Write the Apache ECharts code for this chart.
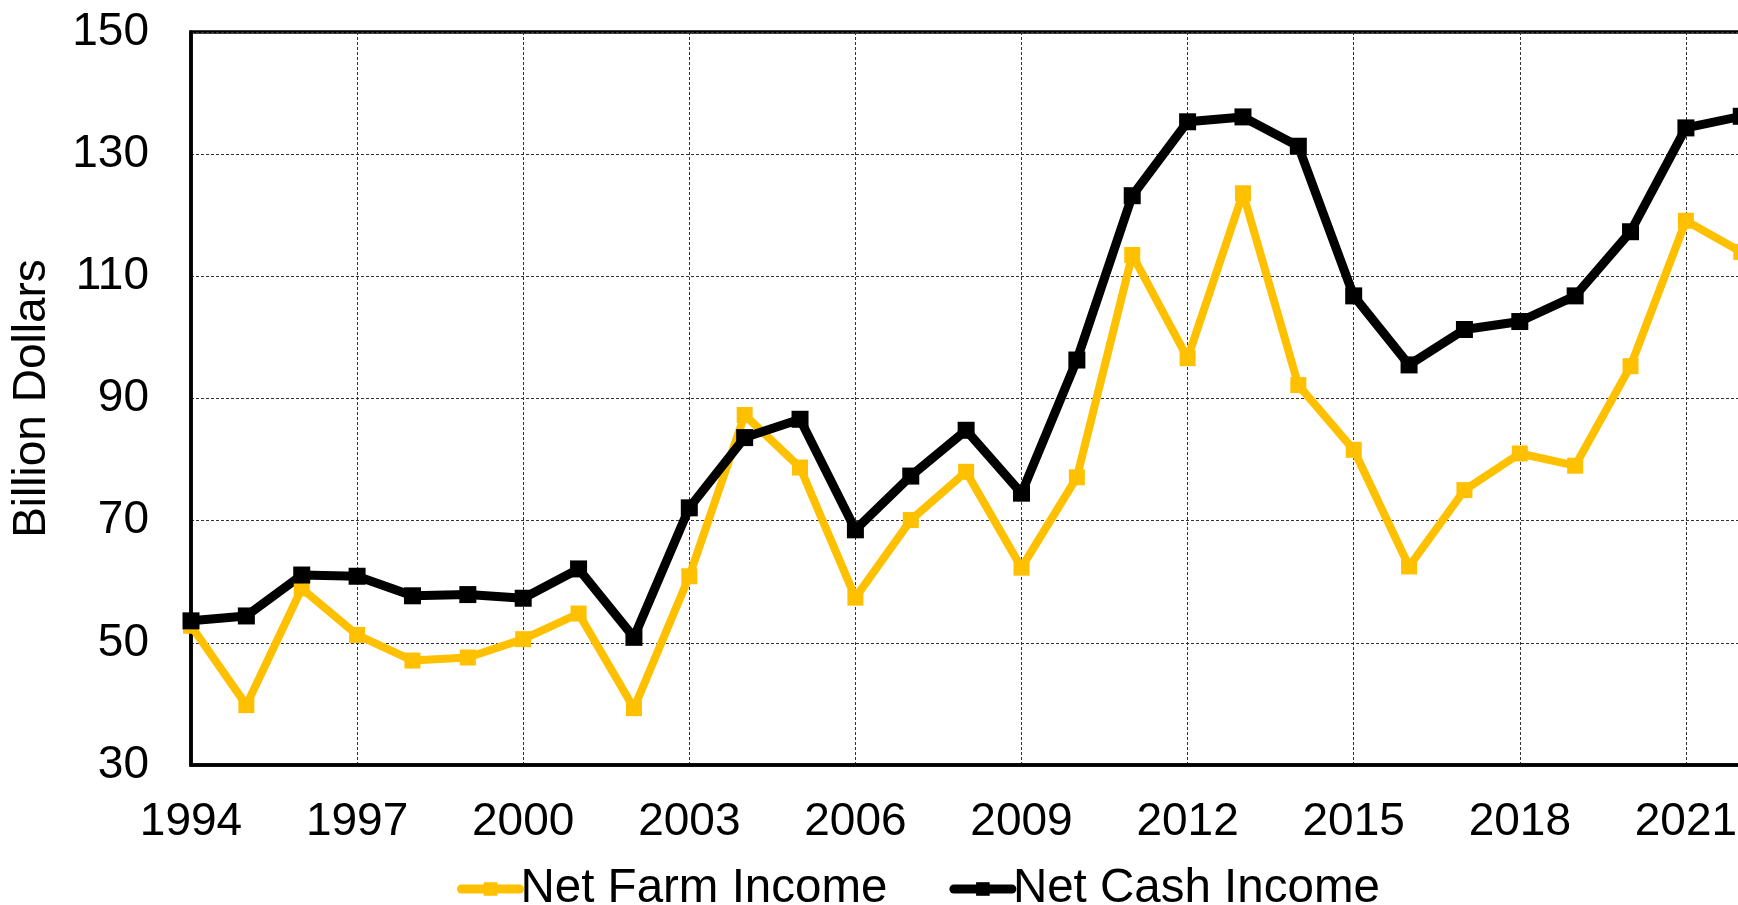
<!DOCTYPE html>
<html>
<head>
<meta charset="utf-8">
<script src="https://cdn.jsdelivr.net/npm/echarts@6/dist/echarts.min.js"></script>
<style>
  html, body { margin: 0; padding: 0; background: #fff; }
  #chart { width: 1738px; height: 905px; }
</style>
</head>
<body>
<div id="chart"></div>
<script>
// years on the category axis (the right end runs past the page edge)
const years = [];
for (let y = 1994; y <= 2024; y++) years.push(String(y));

// billion dollars, 1994-2022
const netFarmIncome = [
  52.8, 39.8, 58.9, 51.3, 47.1, 47.6, 50.6, 54.8, 39.3, 60.9,
  87.3, 78.7, 57.4, 70.1, 78.0, 62.3, 77.1, 113.5, 96.6, 123.6,
  92.2, 81.6, 62.5, 75.0, 81.0, 79.0, 95.3, 119.1, 114.0
];
const netCashIncome = [
  53.6, 54.4, 61.1, 60.9, 57.7, 57.9, 57.3, 62.1, 50.9, 72.1,
  83.6, 86.6, 68.5, 77.3, 84.8, 74.5, 96.3, 123.2, 135.3, 136.1,
  131.3, 106.8, 95.5, 101.3, 102.6, 106.8, 117.3, 134.3, 136.2
];

const FONT = 'Liberation Sans, Arial, sans-serif';

const chart = echarts.init(document.getElementById('chart'));

chart.setOption({
  animation: false,
  backgroundColor: '#fff',
  textStyle: { fontFamily: FONT, color: '#000' },
  grid: {
    left: 191,
    top: 32,
    bottom: 140,
    width: 1661,
    show: true,
    borderColor: '#000',
    borderWidth: 3.5,
    containLabel: false,
    outerBoundsMode: 'none'
  },
  legend: {
    left: 452,
    top: 860,
    itemWidth: 58,
    itemHeight: 17,
    itemGap: 62,
    lineStyle: { width: 9, cap: 'round' },
    textStyle: { fontFamily: FONT, fontSize: 47.5, color: '#000', padding: [0, 0, 0, -4] },
    data: ['Net Farm Income', 'Net Cash Income']
  },
  xAxis: {
    type: 'category',
    data: years,
    boundaryGap: false,
    axisLine: { show: true, lineStyle: { color: '#000', width: 3.5 } },
    axisTick: { show: false },
    axisLabel: {
      interval: 2,
      fontFamily: FONT,
      fontSize: 46,
      color: '#000',
      margin: 34
    },
    splitLine: {
      show: true,
      interval: 2,
      lineStyle: { color: '#333', width: 1, type: [3, 2] }
    }
  },
  yAxis: {
    type: 'value',
    min: 30,
    max: 150,
    interval: 20,
    name: 'Billion Dollars',
    nameLocation: 'middle',
    nameGap: 136,
    nameTextStyle: { fontFamily: FONT, fontSize: 46, color: '#000' },
    axisLine: { show: true, lineStyle: { color: '#000', width: 3.5 } },
    axisTick: { show: false },
    axisLabel: {
      fontFamily: FONT,
      fontSize: 46,
      color: '#000',
      margin: 42
    },
    splitLine: {
      show: true,
      lineStyle: { color: '#333', width: 1, type: [3, 2] }
    }
  },
  series: [
    {
      name: 'Net Farm Income',
      type: 'line',
      data: netFarmIncome,
      symbol: 'rect',
      symbolSize: 16,
      showAllSymbol: true,
      color: '#FFC000',
      lineStyle: { color: '#FFC000', width: 8 },
      itemStyle: { color: '#FFC000' }
    },
    {
      name: 'Net Cash Income',
      type: 'line',
      data: netCashIncome,
      symbol: 'rect',
      symbolSize: 17,
      showAllSymbol: true,
      color: '#000',
      lineStyle: { color: '#000', width: 9 },
      itemStyle: { color: '#000' }
    }
  ]
});

window.addEventListener('resize', () => chart.resize());
</script>
</body>
</html>
